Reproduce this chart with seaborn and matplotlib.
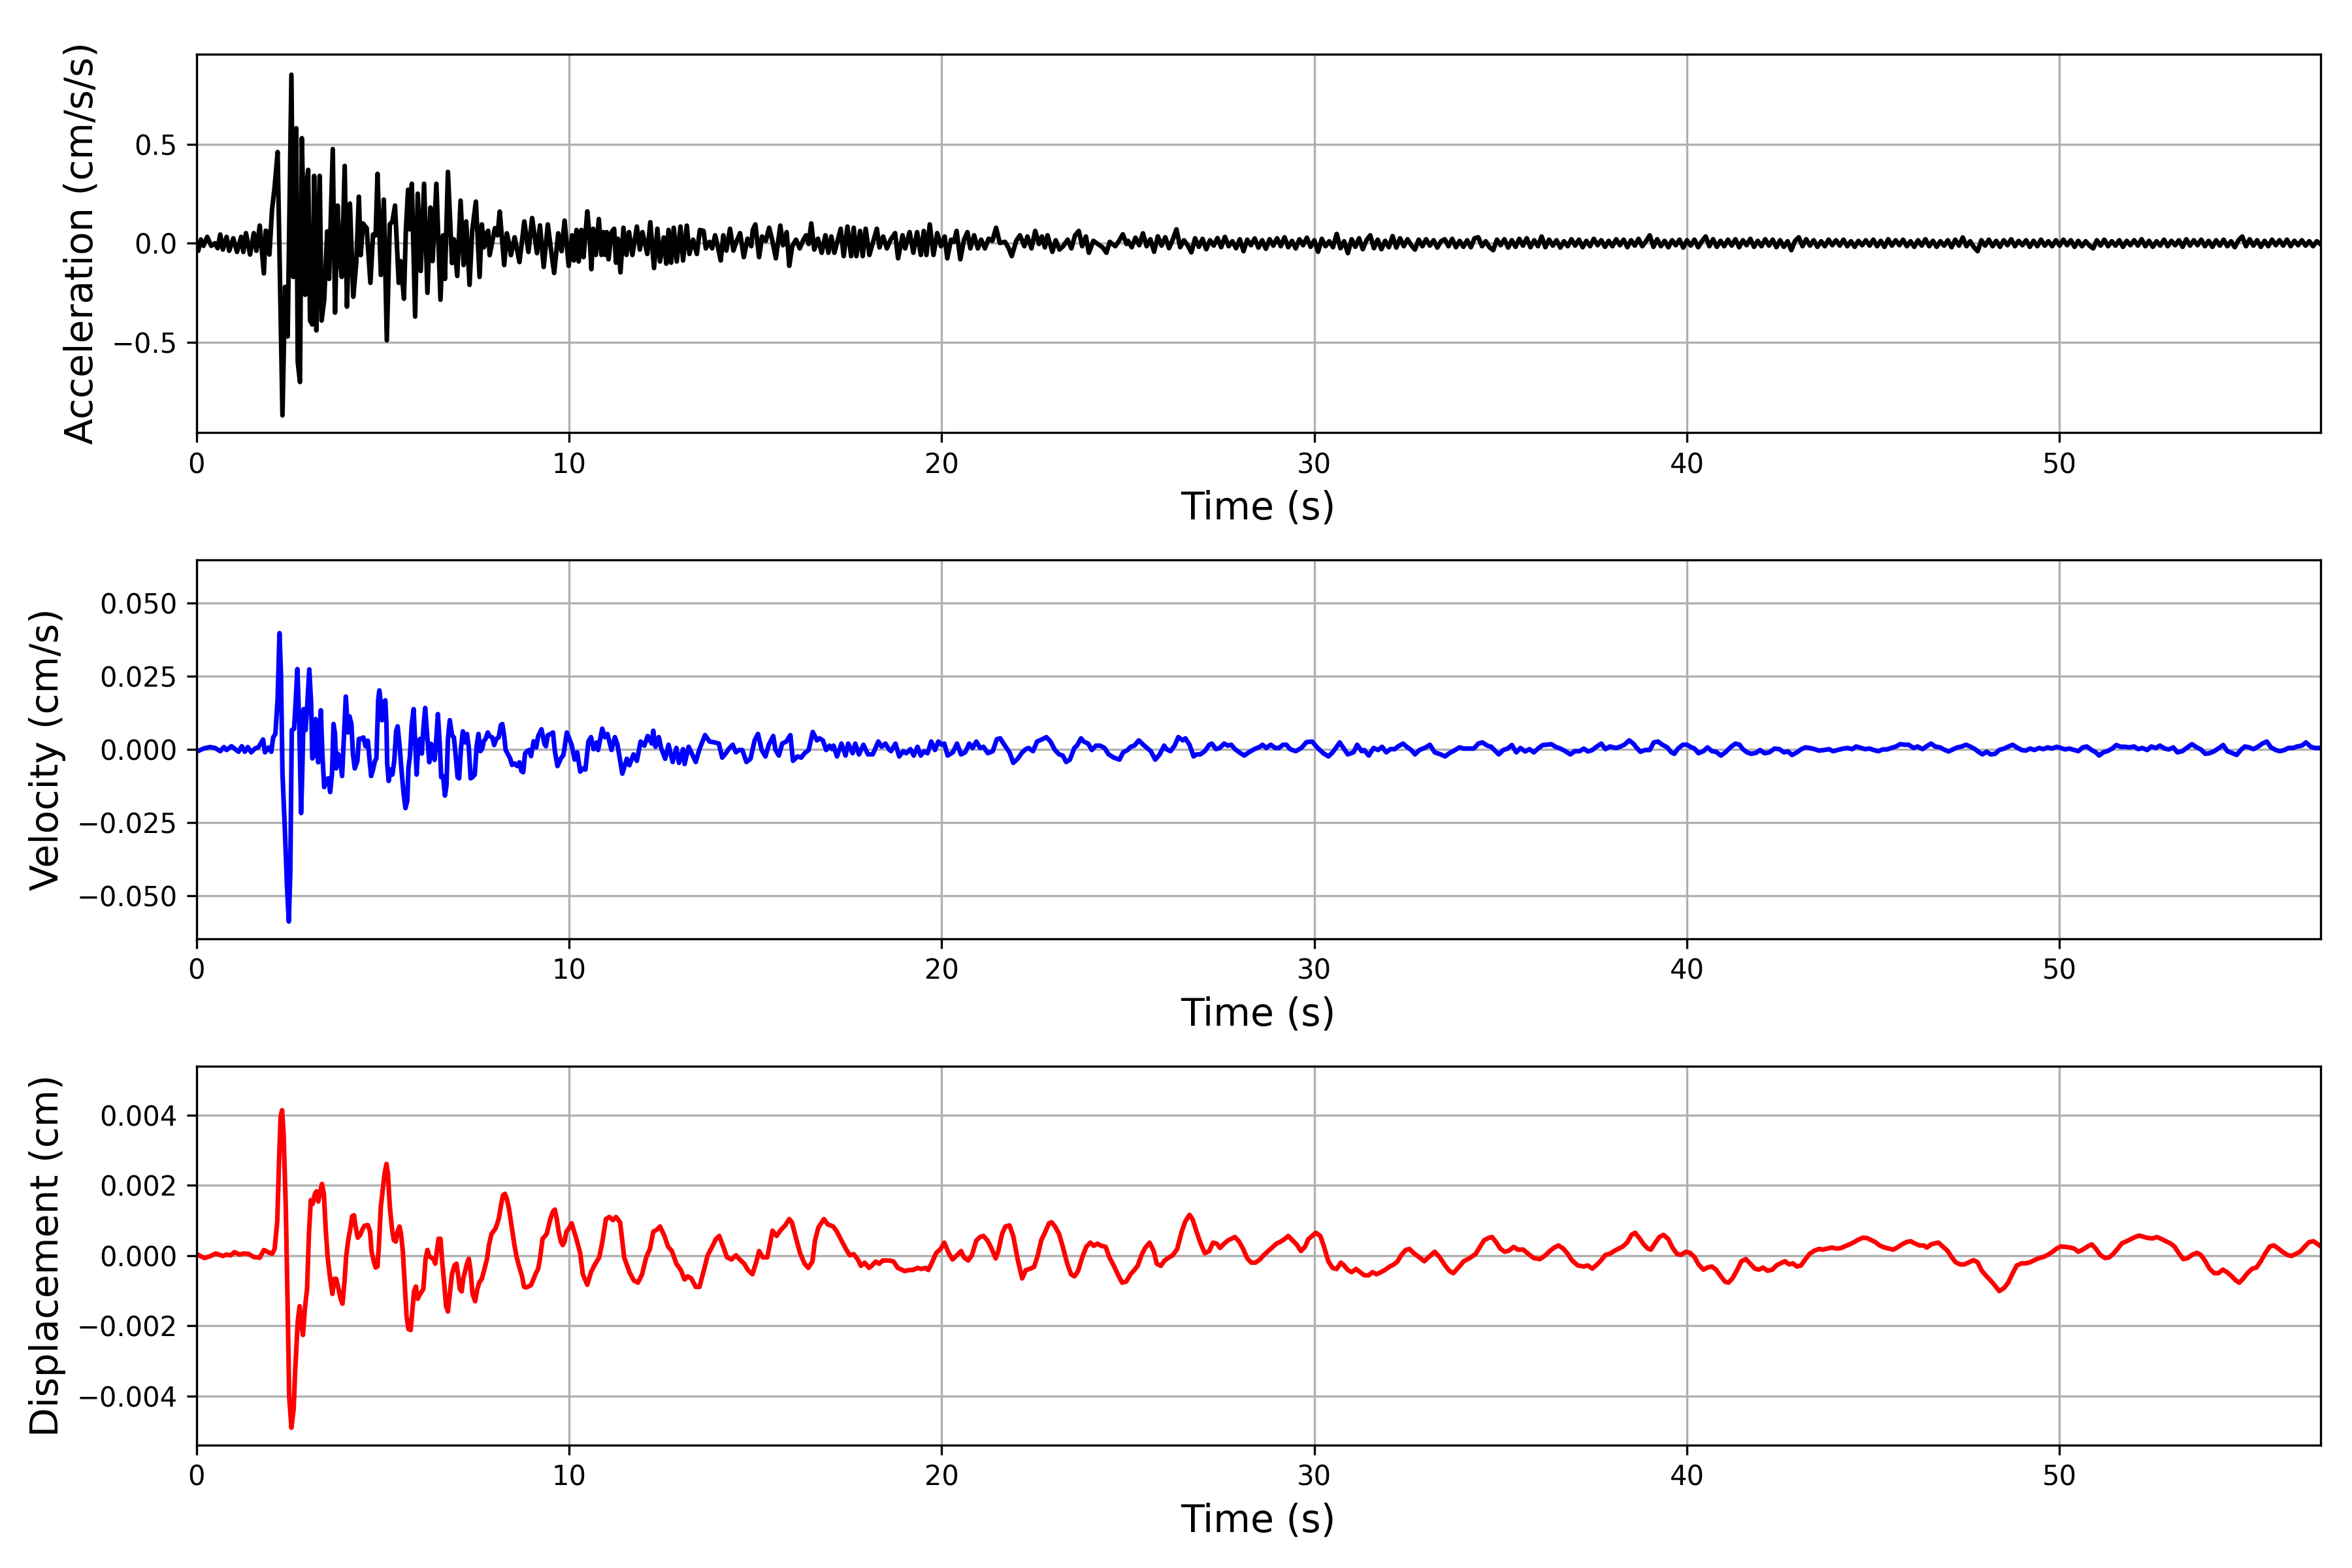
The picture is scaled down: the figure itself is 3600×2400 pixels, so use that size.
import numpy as np
import matplotlib
matplotlib.use("Agg")
import matplotlib.pyplot as plt
from matplotlib.ticker import MultipleLocator
import seaborn as sns

# ---- acceleration (cm/s/s) ----
acc_t_0_10 = [0.00, 0.05, 0.12, 0.19, 0.29, 0.40, 0.50, 0.57, 0.64, 0.71,
              0.81, 0.88, 0.99, 1.09, 1.20, 1.26, 1.33, 1.44, 1.54, 1.61,
              1.70, 1.81, 1.86, 1.92, 1.96, 2.03, 2.10, 2.18, 2.31, 2.38,
              2.45, 2.55, 2.60, 2.68, 2.72, 2.78, 2.83, 2.92, 2.95, 3.00,
              3.05, 3.11, 3.16, 3.22, 3.28, 3.31, 3.36, 3.43, 3.51, 3.56,
              3.66, 3.72, 3.79, 3.84, 3.90, 3.98, 4.04, 4.12, 4.21, 4.29,
              4.36, 4.41, 4.47, 4.57, 4.67, 4.74, 4.81, 4.86, 4.95, 5.03,
              5.11, 5.19, 5.26, 5.33, 5.43, 5.48, 5.57, 5.62, 5.68, 5.72,
              5.78, 5.87, 5.94, 6.02, 6.11, 6.20, 6.28, 6.34, 6.44, 6.55,
              6.62, 6.67, 6.75, 6.86, 6.91, 7.00, 7.09, 7.17, 7.24, 7.33,
              7.40, 7.50, 7.60, 7.66, 7.72, 7.78, 7.83, 7.87, 8.01, 8.08,
              8.14, 8.26, 8.33, 8.39, 8.44, 8.54, 8.67, 8.80, 8.91, 9.01,
              9.14, 9.22, 9.32, 9.43, 9.50, 9.60, 9.71, 9.80, 9.88, 9.99]
acc_0_10 = [0.0, -0.038, 0.019, -0.013, 0.032, -0.013, 0.0, -0.025, 0.044, -0.032,
            0.032, -0.038, 0.025, -0.044, 0.032, -0.044, 0.051, -0.057, 0.051, -0.038,
            0.089, -0.152, 0.063, 0.057, -0.057, 0.17, 0.285, 0.46, -0.868, -0.22,
            -0.47, 0.85, -0.17, 0.58, -0.60, -0.70, 0.53, -0.26, 0.29, 0.37,
            -0.39, -0.41, 0.34, -0.44, 0.165, 0.34, -0.39, -0.285, 0.06, -0.18,
            0.475, -0.35, 0.19, -0.05, -0.17, 0.39, -0.32, 0.20, -0.27, -0.10,
            0.235, -0.06, 0.10, 0.076, -0.20, 0.044, 0.04, 0.35, -0.16, 0.22,
            -0.49, 0.095, 0.11, 0.19, -0.20, -0.09, -0.28, 0.06, 0.27, 0.07,
            0.30, -0.37, 0.25, -0.14, 0.30, -0.25, 0.18, -0.09, 0.30, -0.285,
            0.04, -0.18, 0.36, -0.10, 0.02, -0.165, 0.215, -0.11, 0.11, -0.21,
            0.06, 0.21, -0.17, 0.095, -0.02, 0.05, 0.063, -0.06, 0.076, 0.04,
            0.16, -0.11, 0.05, 0.0, -0.06, 0.03, -0.095, 0.11, -0.044, 0.127,
            -0.05, 0.09, -0.12, 0.095, -0.01, -0.15, 0.05, -0.04, 0.114, -0.114]

acc_t_10_25 = [10.08, 10.13, 10.20, 10.26, 10.33, 10.39, 10.49, 10.55, 10.60, 10.65,
               10.72, 10.80, 10.87, 10.92, 10.97, 11.01, 11.06, 11.14, 11.21, 11.26,
               11.31, 11.38, 11.46, 11.54, 11.61, 11.70, 11.82, 11.90, 11.97, 12.10,
               12.18, 12.28, 12.37, 12.44, 12.54, 12.61, 12.67, 12.74, 12.81, 12.89,
               12.99, 13.06, 13.16, 13.23, 13.33, 13.43, 13.51, 13.61, 13.67, 13.77,
               13.84, 13.92, 13.99, 14.07, 14.14, 14.22, 14.32, 14.41, 14.49, 14.59,
               14.69, 14.79, 14.89, 14.93, 15.00, 15.10, 15.18, 15.28, 15.37, 15.45,
               15.55, 15.67, 15.74, 15.84, 15.91, 15.99, 16.09, 16.19, 16.29, 16.36,
               16.43, 16.50, 16.58, 16.68, 16.78, 16.88, 16.96, 17.04, 17.12, 17.19,
               17.29, 17.37, 17.47, 17.57, 17.64, 17.71, 17.81, 17.88, 17.96, 18.06,
               18.16, 18.26, 18.33, 18.43, 18.53, 18.63, 18.75, 18.83, 18.95, 19.02,
               19.14, 19.24, 19.34, 19.44, 19.52, 19.59, 19.68, 19.78, 19.88, 19.98,
               20.08, 20.15, 20.25, 20.33, 20.40, 20.50, 20.60, 20.69, 20.77, 20.87,
               20.97, 21.06, 21.16, 21.26, 21.36, 21.46, 21.56, 21.70, 21.80, 21.88,
               22.00, 22.10, 22.22, 22.30, 22.41, 22.51, 22.61, 22.69, 22.77, 22.84,
               22.97, 23.06, 23.16, 23.26, 23.38, 23.48, 23.58, 23.68, 23.77, 23.87,
               23.95, 24.07, 24.19, 24.32, 24.42, 24.51, 24.66, 24.76, 24.86, 24.96]
acc_10_25 = [0.040, -0.087, 0.067, -0.092, 0.067, -0.070, 0.161, 0.040, -0.131, 0.073,
             -0.059, 0.122, -0.059, 0.056, -0.059, 0.056, -0.081, 0.056, 0.073, -0.098,
             0.023, -0.147, 0.078, -0.059, 0.056, -0.059, 0.084, -0.032, 0.056, -0.054,
             0.106, -0.125, 0.073, -0.092, 0.029, -0.103, 0.067, -0.098, 0.078, -0.092,
             0.084, -0.087, 0.089, -0.054, 0.018, -0.054, 0.067, 0.062, -0.026, 0.007,
             -0.026, 0.040, -0.015, -0.087, 0.040, -0.037, 0.073, -0.037, 0.007, 0.051,
             -0.070, 0.023, -0.015, 0.067, 0.095, -0.070, 0.034, 0.012, 0.078, 0.018,
             -0.076, 0.089, -0.010, 0.056, -0.114, -0.015, 0.018, -0.026, 0.018, 0.040,
             -0.004, 0.100, -0.032, 0.023, -0.048, 0.040, -0.048, 0.034, -0.048, 0.001,
             0.073, -0.065, 0.084, -0.065, 0.078, -0.065, 0.062, -0.065, 0.073, -0.059,
             0.007, 0.073, -0.021, 0.034, -0.026, 0.018, 0.051, -0.076, 0.040, -0.026,
             0.056, -0.048, 0.056, -0.059, 0.062, -0.059, 0.095, -0.059, 0.051, -0.015,
             0.034, -0.076, 0.018, 0.007, 0.062, -0.081, 0.018, 0.056, -0.026, 0.040,
             -0.026, 0.018, -0.026, 0.023, 0.012, 0.078, 0.001, 0.007, -0.026, -0.065,
             0.012, 0.040, -0.015, 0.034, -0.026, 0.062, -0.004, 0.034, -0.021, 0.040,
             -0.043, 0.015, -0.032, -0.015, 0.018, -0.026, 0.040, 0.062, -0.015, 0.034,
             -0.048, 0.012, -0.004, -0.021, -0.048, 0.007, -0.015, 0.012, 0.045, -0.004]

# 25.0 s to 57.0 s, one value every 0.1 s
acc_25_57 = [0.012, -0.02, 0.028, -0.01, 0.05, -0.015, 0.02, -0.043, 0.035, -0.012,
             0.03, -0.025, 0.018, 0.07, -0.02, 0.015, -0.01, -0.046, 0.025, -0.018,
             0.022, -0.03, 0.015, -0.012, 0.026, -0.02, 0.032, -0.015, 0.01, -0.025,
             0.02, -0.04, 0.018, -0.01, 0.024, -0.022, 0.015, -0.028, 0.02, -0.012,
             0.025, -0.015, 0.03, -0.02, 0.012, -0.026, 0.02, -0.01, 0.028, -0.018,
             0.015, -0.043, 0.022, -0.015, 0.01, -0.02, 0.047, -0.025, 0.01, -0.05,
             0.02, -0.018, 0.025, -0.03, 0.015, 0.04, -0.025, 0.018, -0.03, 0.012,
             -0.02, 0.036, -0.022, 0.025, -0.015, 0.02, -0.01, -0.032, 0.018, -0.015,
             0.02, -0.012, 0.015, -0.022, 0.01, 0.02, -0.015, 0.022, -0.02, 0.012,
             -0.018, 0.015, -0.02, 0.025, 0.03, -0.015, 0.01, -0.02, -0.035, 0.018,
             -0.01, 0.02, -0.022, 0.015, -0.018, 0.022, -0.012, 0.025, -0.02, 0.015,
             -0.015, 0.034, -0.02, 0.018, -0.012, 0.015, -0.022, 0.01, -0.015, 0.02,
             -0.012, 0.018, -0.02, 0.012, -0.015, 0.022, -0.01, 0.015, -0.018, 0.012,
             -0.015, 0.02, -0.01, 0.018, -0.02, 0.015, -0.012, 0.022, -0.015, 0.01,
             0.04, -0.018, 0.02, -0.015, 0.012, -0.02, 0.015, -0.01, 0.018, -0.022,
             0.015, -0.012, 0.018, -0.02, 0.01, 0.034, -0.015, 0.02, -0.018, 0.012,
             -0.015, 0.018, -0.012, 0.02, -0.02, 0.015, -0.01, 0.022, -0.018, 0.012,
             -0.015, 0.02, -0.012, 0.018, -0.02, 0.015, -0.018, 0.01, -0.035, 0.012,
             0.03, -0.015, 0.02, -0.012, 0.015, -0.018, 0.01, -0.015, 0.018, -0.01,
             0.015, -0.012, 0.018, -0.015, 0.01, -0.018, 0.012, -0.01, 0.015, -0.012,
             0.018, -0.015, 0.012, -0.018, 0.02, -0.012, 0.015, -0.01, 0.018, -0.015,
             0.01, -0.018, 0.015, -0.012, 0.02, -0.015, 0.012, -0.018, 0.01, -0.012,
             0.015, -0.02, 0.018, -0.012, 0.029, -0.015, 0.01, -0.02, -0.04, 0.015,
             -0.012, 0.018, -0.015, 0.012, -0.018, 0.015, -0.01, 0.02, -0.015, 0.012,
             -0.01, 0.015, -0.018, 0.012, -0.015, 0.018, -0.012, 0.01, -0.015, 0.015,
             -0.012, 0.018, -0.01, 0.015, -0.018, 0.012, -0.015, 0.01, -0.012, -0.026,
             0.015, -0.012, 0.018, -0.015, 0.01, -0.012, 0.015, -0.018, 0.012, -0.01,
             0.015, -0.012, 0.02, -0.015, 0.012, -0.018, 0.01, -0.012, 0.018, -0.015,
             0.012, -0.01, 0.015, -0.018, 0.02, -0.012, 0.015, -0.01, 0.018, -0.015,
             0.012, -0.018, 0.015, -0.012, 0.018, -0.015, 0.01, -0.02, 0.015, 0.034,
             -0.015, 0.02, -0.012, 0.015, -0.018, 0.012, -0.015, 0.018, -0.01, 0.015,
             -0.012, 0.018, -0.015, 0.012, -0.01, 0.015, -0.012, 0.01, -0.015, 0.01,
             -0.005]
acc_t_25_57 = np.round(25.0 + 0.1 * np.arange(len(acc_25_57)), 1)

# ---- velocity (cm/s) ----
vel_t_0_10 = [0.00, 0.19, 0.36, 0.50, 0.64, 0.74, 0.81, 0.94, 1.02, 1.13,
              1.22, 1.30, 1.38, 1.47, 1.58, 1.66, 1.72, 1.79, 1.84, 1.94,
              2.01, 2.06, 2.12, 2.18, 2.23, 2.27, 2.31, 2.38, 2.43, 2.48,
              2.52, 2.56, 2.62, 2.65, 2.71, 2.76, 2.81, 2.84, 2.88, 2.93,
              2.97, 3.03, 3.08, 3.11, 3.15, 3.20, 3.23, 3.27, 3.34, 3.38,
              3.43, 3.49, 3.54, 3.59, 3.64, 3.68, 3.72, 3.75, 3.79, 3.85,
              3.91, 3.96, 4.01, 4.07, 4.11, 4.16, 4.20, 4.25, 4.32, 4.36,
              4.41, 4.48, 4.54, 4.60, 4.65, 4.69, 4.74, 4.79, 4.83, 4.88,
              4.91, 4.95, 4.98, 5.02, 5.07, 5.10, 5.12, 5.16, 5.21, 5.26,
              5.31, 5.36, 5.40, 5.46, 5.50, 5.56, 5.61, 5.66, 5.69, 5.73,
              5.78, 5.83, 5.87, 5.91, 5.96, 6.00, 6.05, 6.09, 6.14, 6.18,
              6.25, 6.30, 6.34, 6.39, 6.43, 6.48, 6.53, 6.57, 6.62, 6.67,
              6.71, 6.75, 6.80, 6.86, 6.91, 6.96, 7.01, 7.05, 7.10, 7.15,
              7.21, 7.26, 7.31, 7.36, 7.41, 7.47, 7.52, 7.57, 7.62, 7.67,
              7.71, 7.76, 7.82, 7.87, 7.94, 7.99, 8.05, 8.11, 8.17, 8.21,
              8.26, 8.30, 8.37, 8.42, 8.47, 8.54, 8.61, 8.67, 8.72, 8.77,
              8.82, 8.87, 8.93, 8.98, 9.05, 9.12, 9.17, 9.26, 9.34, 9.38,
              9.43, 9.49, 9.57, 9.62, 9.69, 9.78, 9.85, 9.94]
vel_0_10 = [-0.0008, 0.0003, 0.0008, 0.0005, -0.0006, 0.0008, -0.0002, 0.0011, 0.0003, -0.0008,
            0.0011, -0.0008, 0.0008, -0.0010, 0.0004, 0.0007, 0.0019, 0.0034, -0.0010, 0.0007,
            -0.0008, 0.0041, 0.0053, 0.0172, 0.0398, 0.0257, -0.0082, -0.0294, -0.0464, -0.0589,
            -0.0421, 0.0066, 0.0070, 0.0130, 0.0275, 0.0087, -0.0218, -0.0082, 0.0138, 0.0066,
            0.0142, 0.0274, 0.0155, -0.0031, -0.0023, 0.0104, 0.0053, -0.0044, 0.0134, -0.0014,
            -0.0129, -0.0103, -0.0099, -0.0146, -0.0082, 0.0087, 0.0053, -0.0065, -0.0014, -0.0027,
            -0.0091, 0.0045, 0.0181, 0.0058, 0.0113, 0.0087, -0.0014, -0.0065, -0.0040, 0.0036,
            0.0036, 0.0041, 0.0011, 0.0030, -0.0040, -0.0091, -0.0069, -0.0040, -0.0031, 0.0172,
            0.0202, 0.0155, 0.0100, 0.0159, 0.0168, 0.0087, -0.0048, -0.0108, -0.0069, -0.0086,
            -0.0040, 0.0062, 0.0079, 0.0003, -0.0065, -0.0150, -0.0201, -0.0175, -0.0065, -0.0023,
            0.0087, 0.0138, 0.0028, -0.0086, 0.0028, 0.0036, -0.0014, 0.0070, 0.0142, 0.0070,
            -0.0044, 0.0019, 0.0011, -0.0036, 0.0019, 0.0121, 0.0019, -0.0095, -0.0091, -0.0158,
            -0.0125, 0.0036, 0.0100, 0.0049, 0.0041, -0.0023, -0.0095, -0.0099, 0.0003, 0.0062,
            0.0024, 0.0053, 0.0007, -0.0099, -0.0095, -0.0086, 0.0011, 0.0053, -0.0006, 0.0003,
            0.0028, 0.0036, 0.0058, 0.0045, 0.0041, 0.0015, 0.0036, 0.0041, 0.0083, 0.0087,
            0.0045, -0.0002, -0.0019, -0.0031, -0.0053, -0.0048, -0.0057, -0.0044, -0.0074, -0.0078,
            -0.0014, -0.0006, -0.0002, -0.0023, 0.0028, 0.0007, 0.0045, 0.0069, 0.0019, 0.0011,
            0.0049, 0.0052, 0.0058, -0.0006, -0.0057, -0.0031, -0.0019, 0.0058]

vel_t_10_33 = [10.07, 10.15, 10.22, 10.30, 10.37, 10.44, 10.52, 10.59, 10.66, 10.74,
               10.78, 10.89, 10.96, 11.03, 11.14, 11.23, 11.30, 11.43, 11.55, 11.62,
               11.73, 11.82, 11.92, 12.02, 12.11, 12.22, 12.26, 12.32, 12.41, 12.47,
               12.58, 12.67, 12.78, 12.88, 12.95, 13.06, 13.10, 13.21, 13.29, 13.40,
               13.50, 13.65, 13.77, 13.91, 14.02, 14.11, 14.21, 14.28, 14.39, 14.48,
               14.56, 14.65, 14.76, 14.87, 14.98, 15.07, 15.17, 15.27, 15.36, 15.48,
               15.54, 15.63, 15.72, 15.83, 15.94, 16.01, 16.13, 16.23, 16.32, 16.43,
               16.54, 16.65, 16.72, 16.81, 16.90, 16.99, 17.06, 17.10, 17.19, 17.31,
               17.42, 17.49, 17.61, 17.68, 17.78, 17.90, 18.02, 18.15, 18.30, 18.39,
               18.49, 18.58, 18.64, 18.76, 18.86, 18.97, 19.05, 19.16, 19.25, 19.35,
               19.44, 19.53, 19.62, 19.72, 19.82, 19.91, 20.00, 20.07, 20.16, 20.30,
               20.41, 20.52, 20.63, 20.74, 20.83, 20.93, 21.03, 21.12, 21.24, 21.37,
               21.48, 21.57, 21.68, 21.82, 21.92, 22.04, 22.16, 22.26, 22.33, 22.45,
               22.56, 22.70, 22.81, 22.92, 23.04, 23.15, 23.25, 23.34, 23.44, 23.56,
               23.63, 23.74, 23.81, 23.93, 24.03, 24.14, 24.25, 24.37, 24.48, 24.62,
               24.77, 24.87, 24.99, 25.07, 25.17, 25.29, 25.41, 25.51, 25.61, 25.73,
               25.85, 25.97, 26.03, 26.14, 26.25, 26.35, 26.47, 26.54, 26.65, 26.76,
               26.84, 26.94, 27.06, 27.18, 27.25, 27.36, 27.46, 27.58, 27.68, 27.77,
               27.87, 28.02, 28.12, 28.24, 28.39, 28.54, 28.61, 28.71, 28.83, 28.95,
               29.05, 29.16, 29.25, 29.35, 29.50, 29.65, 29.79, 29.94, 30.09, 30.24,
               30.38, 30.49, 30.60, 30.68, 30.78, 30.90, 31.05, 31.15, 31.27, 31.34,
               31.46, 31.59, 31.71, 31.82, 31.93, 32.04, 32.16, 32.23, 32.38, 32.48,
               32.60, 32.70, 32.82]
vel_10_33 = [0.0016, -0.0035, -0.0010, -0.0076, -0.0065, -0.0069, 0.0027, 0.0042, 0.0001, 0.0024,
             -0.0002, 0.0071, 0.0042, 0.0053, -0.0002, 0.0042, 0.0016, -0.0083, -0.0032, -0.0054,
             -0.0017, -0.0039, 0.0027, 0.0013, 0.0046, 0.0020, 0.0064, 0.0009, 0.0042, 0.0005,
             -0.0032, 0.0016, -0.0043, 0.0005, -0.0046, 0.0001, -0.0050, 0.0009, -0.0013, -0.0043,
             0.0001, 0.0049, 0.0027, 0.0024, 0.0020, -0.0028, -0.0013, 0.0001, 0.0016, -0.0010,
             -0.0002, -0.0002, -0.0043, -0.0032, 0.0031, 0.0053, -0.0002, -0.0024, 0.0016, 0.0046,
             -0.0002, -0.0021, 0.0020, 0.0027, 0.0049, -0.0039, -0.0024, -0.0028, -0.0013, -0.0002,
             0.0060, 0.0031, 0.0038, 0.0031, -0.0002, 0.0013, 0.0001, 0.0013, -0.0024, 0.0020,
             -0.0021, 0.0020, -0.0013, 0.0020, -0.0017, 0.0016, -0.0017, -0.0017, 0.0027, 0.0009,
             0.0020, 0.0001, -0.0006, 0.0020, -0.0024, -0.0006, -0.0013, 0.0001, -0.0021, 0.0009,
             -0.0021, -0.0006, -0.0013, 0.0027, -0.0002, 0.0027, 0.0016, 0.0020, -0.0021, -0.0010,
             0.0020, -0.0017, -0.0010, 0.0020, 0.0005, 0.0027, 0.0005, 0.0009, -0.0013, -0.0006,
             0.0035, 0.0038, 0.0016, -0.0010, -0.0046, -0.0032, -0.0010, 0.0001, 0.0005, -0.0006,
             0.0027, 0.0035, 0.0042, 0.0027, -0.0002, -0.0017, -0.0021, -0.0043, -0.0035, 0.0005,
             0.0013, 0.0038, 0.0027, 0.0020, -0.0002, 0.0013, 0.0013, 0.0005, -0.0017, -0.0028,
             -0.0035, -0.0010, -0.0002, 0.0009, 0.0013, 0.0031, 0.0016, 0.0005, -0.0006, -0.0035,
             -0.0017, 0.0013, 0.0001, -0.0006, 0.0013, 0.0042, 0.0031, 0.0038, 0.0016, -0.0024,
             -0.0017, -0.0017, -0.0006, 0.0016, 0.0020, 0.0001, 0.0005, 0.0020, 0.0013, 0.0016,
             0.0001, -0.0013, -0.0021, -0.0010, 0.0001, 0.0009, 0.0016, 0.0005, 0.0016, 0.0005,
             0.0005, 0.0016, 0.0016, 0.0001, -0.0006, 0.0005, 0.0025, 0.0027, 0.0005, -0.0013,
             -0.0024, -0.0010, 0.0009, 0.0024, 0.0005, -0.0017, -0.0010, 0.0016, -0.0006, -0.0002,
             -0.0021, 0.0005, -0.0002, 0.0009, -0.0010, 0.0001, 0.0001, 0.0009, 0.0020, 0.0009,
             -0.0002, -0.0017, -0.0002]

vel_t_33_57 = [32.99, 33.10, 33.23, 33.39, 33.51, 33.62, 33.78, 33.89, 34.01, 34.17,
               34.28, 34.40, 34.51, 34.64, 34.75, 34.83, 34.95, 35.07, 35.19, 35.30,
               35.42, 35.53, 35.66, 35.77, 35.89, 36.02, 36.13, 36.24, 36.36, 36.47,
               36.60, 36.71, 36.87, 36.99, 37.12, 37.23, 37.34, 37.46, 37.57, 37.70,
               37.81, 37.93, 38.09, 38.20, 38.32, 38.45, 38.56, 38.64, 38.75, 38.87,
               39.00, 39.11, 39.22, 39.34, 39.47, 39.58, 39.66, 39.76, 39.89, 40.00,
               40.09, 40.20, 40.31, 40.44, 40.55, 40.67, 40.78, 40.91, 41.03, 41.18,
               41.30, 41.41, 41.50, 41.61, 41.72, 41.85, 41.96, 42.08, 42.21, 42.35,
               42.48, 42.60, 42.71, 42.82, 42.95, 43.07, 43.18, 43.29, 43.42, 43.54,
               43.68, 43.81, 43.92, 44.04, 44.20, 44.31, 44.43, 44.54, 44.67, 44.78,
               44.90, 45.01, 45.14, 45.25, 45.37, 45.48, 45.61, 45.72, 45.85, 45.95,
               46.08, 46.19, 46.32, 46.42, 46.55, 46.66, 46.79, 46.89, 47.02, 47.15,
               47.26, 47.37, 47.49, 47.60, 47.73, 47.84, 47.93, 48.04, 48.15, 48.27,
               48.38, 48.51, 48.63, 48.74, 48.85, 48.98, 49.09, 49.21, 49.32, 49.45,
               49.56, 49.68, 49.79, 49.92, 50.03, 50.15, 50.26, 50.39, 50.50, 50.62,
               50.73, 50.86, 50.97, 51.06, 51.17, 51.28, 51.41, 51.52, 51.64, 51.75,
               51.88, 52.00, 52.11, 52.22, 52.35, 52.46, 52.58, 52.69, 52.82, 52.93,
               53.05, 53.16, 53.29, 53.41, 53.55, 53.68, 53.79, 53.91, 54.02, 54.15,
               54.28, 54.39, 54.50, 54.62, 54.75, 54.86, 54.97, 55.09, 55.20, 55.33,
               55.44, 55.56, 55.67, 55.80, 55.91, 56.03, 56.14, 56.27, 56.37, 56.50,
               56.61, 56.74, 56.85, 56.97, 57.00]
vel_33_57 = [0.0007, 0.0016, -0.0010, -0.0017, -0.0024, -0.0013, -0.0002, 0.0007, 0.0003, 0.0003,
             0.0003, 0.0020, 0.0024, 0.0013, 0.0009, -0.0002, -0.0017, -0.0002, 0.0003, 0.0015,
             -0.0010, 0.0005, -0.0007, 0.0001, -0.0010, 0.0005, 0.0015, 0.0016, 0.0018, 0.0009,
             0.0003, -0.0004, -0.0017, -0.0006, -0.0006, 0.0003, -0.0007, -0.0002, 0.0009, 0.0020,
             0.0001, 0.0010, 0.0005, 0.0009, 0.0016, 0.0031, 0.0020, 0.0007, -0.0008, -0.0002,
             -0.0002, 0.0024, 0.0027, 0.0016, 0.0007, -0.0010, -0.0015, 0.0003, 0.0016, 0.0016,
             0.0009, 0.0003, -0.0013, -0.0006, 0.0007, -0.0006, -0.0008, -0.0021, -0.0010, 0.0009,
             0.0020, 0.0016, 0.0001, -0.0010, -0.0015, -0.0012, -0.0002, -0.0013, -0.0010, 0.0003,
             0.0001, -0.0010, -0.0007, -0.0019, -0.0010, 0.0001, 0.0007, 0.0005, 0.0001, -0.0004,
             -0.0002, 0.0001, -0.0006, -0.0002, 0.0003, 0.0005, 0.0001, 0.0010, 0.0005, 0.0001,
             0.0003, -0.0002, -0.0006, 0.0000, 0.0000, 0.0005, 0.0010, 0.0018, 0.0016, 0.0016,
             0.0005, 0.0010, 0.0001, 0.0010, 0.0020, 0.0010, 0.0007, 0.0000, -0.0007, 0.0001,
             0.0007, 0.0010, 0.0016, 0.0010, 0.0001, -0.0010, -0.0017, -0.0008, -0.0017, -0.0015,
             -0.0002, 0.0003, 0.0010, 0.0016, 0.0007, -0.0002, -0.0004, 0.0003, -0.0002, 0.0005,
             0.0001, 0.0007, 0.0003, 0.0009, 0.0005, 0.0000, 0.0003, -0.0002, -0.0006, 0.0007,
             0.0010, -0.0002, -0.0010, -0.0021, -0.0010, -0.0006, 0.0003, 0.0015, 0.0009, 0.0009,
             0.0007, 0.0010, 0.0001, 0.0005, -0.0002, 0.0010, 0.0005, 0.0013, 0.0003, 0.0000,
             0.0007, -0.0010, -0.0006, 0.0005, 0.0018, 0.0007, 0.0000, -0.0015, -0.0013, -0.0006,
             0.0005, 0.0015, -0.0006, -0.0012, -0.0019, -0.0002, 0.0010, 0.0007, 0.0001, 0.0010,
             0.0020, 0.0027, 0.0007, -0.0002, -0.0006, -0.0002, 0.0005, 0.0005, 0.0010, 0.0013,
             0.0024, 0.0009, 0.0005, 0.0005, 0.0005]

# ---- displacement (cm) ----
disp_t_0_10 = [0.00, 0.12, 0.22, 0.36, 0.52, 0.71, 0.81, 0.92, 1.02, 1.16,
               1.26, 1.40, 1.54, 1.70, 1.81, 1.92, 2.03, 2.10, 2.17, 2.22,
               2.26, 2.30, 2.34, 2.40, 2.45, 2.49, 2.55, 2.61, 2.65, 2.72,
               2.77, 2.81, 2.86, 2.91, 2.97, 3.02, 3.07, 3.12, 3.18, 3.22,
               3.27, 3.31, 3.37, 3.42, 3.47, 3.52, 3.59, 3.65, 3.70, 3.75,
               3.80, 3.87, 3.92, 3.97, 4.02, 4.08, 4.13, 4.18, 4.23, 4.27,
               4.33, 4.39, 4.45, 4.51, 4.60, 4.66, 4.70, 4.76, 4.81, 4.86,
               4.90, 4.95, 5.00, 5.05, 5.10, 5.14, 5.19, 5.25, 5.30, 5.35,
               5.40, 5.45, 5.49, 5.54, 5.59, 5.64, 5.69, 5.75, 5.80, 5.84,
               5.89, 5.94, 5.99, 6.05, 6.09, 6.15, 6.20, 6.25, 6.30, 6.36,
               6.41, 6.46, 6.50, 6.55, 6.59, 6.65, 6.70, 6.75, 6.80, 6.86,
               6.93, 6.98, 7.02, 7.07, 7.12, 7.16, 7.21, 7.26, 7.31, 7.36,
               7.41, 7.48, 7.54, 7.59, 7.66, 7.73, 7.80, 7.85, 7.92, 7.97,
               8.02, 8.07, 8.12, 8.18, 8.23, 8.28, 8.33, 8.39, 8.46, 8.53,
               8.59, 8.66, 8.74, 8.79, 8.84, 8.91, 8.98, 9.05, 9.12, 9.17,
               9.22, 9.29, 9.35, 9.40, 9.45, 9.50, 9.57, 9.62, 9.67, 9.72,
               9.78, 9.83, 9.88, 9.93, 9.97]
disp_0_10 = [0.00005, -0.00002, -0.00007, -0.00002, 0.00006, -0.00001, 0.00003, 0.00001, 0.0001, 0.00003,
             0.00006, 0.00005, -0.00004, -0.00006, 0.00016, 0.0001, 0.00005, 0.00019, 0.00098, 0.00275,
             0.00396, 0.00414, 0.00347, 0.00133, -0.00152, -0.00401, -0.0049, -0.00436, -0.0033, -0.00187,
             -0.00144, -0.00194, -0.00226, -0.00152, -0.00095, 0.00062, 0.00158, 0.00147, 0.00176, 0.00183,
             0.00154, 0.00176, 0.00204, 0.00176, 0.00076, -0.00002, -0.00066, -0.00109, -0.00066, -0.00066,
             -0.00088, -0.00123, -0.00137, -0.0008, -0.00002, 0.00048, 0.00076, 0.00112, 0.00115, 0.00083,
             0.00051, 0.00058, 0.00073, 0.00085, 0.00087, 0.00069, 0.00012, -0.00016, -0.00034, -0.00031,
             0.00033, 0.0014, 0.00186, 0.00233, 0.00261, 0.00233, 0.0014, 0.00076, 0.00044, 0.0004,
             0.00069, 0.00083, 0.00062, 0.00012, -0.0008, -0.00173, -0.00209, -0.00212, -0.00152, -0.00102,
             -0.00088, -0.00123, -0.00112, -0.00102, -0.00095, -0.00009, 0.00016, -0.00002, -0.00006, -0.00009,
             -0.00023, 0.00019, 0.00048, 0.00048, -0.00009, -0.0008, -0.00144, -0.00159, -0.00109, -0.00052,
             -0.00027, -0.00023, -0.00052, -0.00095, -0.00102, -0.00066, -0.00045, -0.00023, -0.00009, -0.00045,
             -0.00109, -0.0013, -0.00095, -0.00077, -0.00066, -0.00038, -0.00009, 0.0003, 0.00062, 0.00069,
             0.00076, 0.0009, 0.00108, 0.00147, 0.00172, 0.00176, 0.00162, 0.00133, 0.00083, 0.00033,
             -0.00002, -0.00031, -0.00059, -0.00088, -0.00091, -0.00088, -0.00084, -0.00066, -0.00048, -0.00038,
             -0.00009, 0.00048, 0.00055, 0.00062, 0.00083, 0.00105, 0.00126, 0.00131, 0.00105, 0.00069,
             0.0004, 0.0003, 0.0004, 0.00069, 0.00073]

disp_t_10_33 = [10.07, 10.19, 10.30, 10.37, 10.49, 10.59, 10.69, 10.81, 10.89, 10.99,
                11.08, 11.18, 11.26, 11.37, 11.48, 11.62, 11.74, 11.85, 11.96, 12.07,
                12.17, 12.26, 12.36, 12.44, 12.56, 12.66, 12.76, 12.88, 13.00, 13.10,
                13.18, 13.28, 13.40, 13.50, 13.62, 13.72, 13.84, 13.94, 14.03, 14.14,
                14.24, 14.36, 14.48, 14.58, 14.70, 14.80, 14.92, 15.02, 15.10, 15.20,
                15.32, 15.46, 15.57, 15.69, 15.80, 15.91, 15.98, 16.09, 16.20, 16.32,
                16.42, 16.53, 16.60, 16.69, 16.84, 16.94, 17.09, 17.19, 17.31, 17.43,
                17.53, 17.64, 17.75, 17.83, 17.93, 18.05, 18.12, 18.23, 18.32, 18.42,
                18.60, 18.71, 18.82, 19.01, 19.13, 19.23, 19.35, 19.45, 19.57, 19.64,
                19.75, 19.85, 19.97, 20.07, 20.19, 20.29, 20.41, 20.52, 20.60, 20.71,
                20.81, 20.93, 21.03, 21.12, 21.23, 21.33, 21.45, 21.52, 21.62, 21.71,
                21.82, 21.92, 22.04, 22.16, 22.26, 22.36, 22.48, 22.58, 22.67, 22.78,
                22.88, 22.95, 23.04, 23.15, 23.25, 23.37, 23.47, 23.56, 23.66, 23.77,
                23.88, 23.99, 24.08, 24.18, 24.28, 24.40, 24.50, 24.62, 24.74, 24.84,
                24.95, 25.07, 25.17, 25.26, 25.36, 25.46, 25.58, 25.69, 25.77, 25.88,
                25.98, 26.10, 26.20, 26.32, 26.44, 26.54, 26.65, 26.73, 26.84, 26.94,
                27.06, 27.18, 27.28, 27.38, 27.47, 27.58, 27.68, 27.87, 27.98, 28.09,
                28.20, 28.31, 28.42, 28.54, 28.64, 28.76, 28.86, 28.98, 29.10, 29.20,
                29.30, 29.42, 29.53, 29.64, 29.75, 29.84, 29.94, 30.04, 30.16, 30.26,
                30.38, 30.49, 30.60, 30.71, 30.78, 30.90, 31.00, 31.12, 31.23, 31.34,
                31.46, 31.56, 31.67, 31.79, 31.89, 32.01, 32.12, 32.23, 32.33, 32.45,
                32.55, 32.67, 32.82]
disp_10_33 = [0.00092, 0.00050, 0.00007, -0.00053, -0.00083, -0.00047, -0.00026, -0.00005, 0.00037, 0.00104,
              0.00110, 0.00101, 0.00110, 0.00095, -0.00005, -0.00047, -0.00071, -0.00077, -0.00053, -0.00005,
              0.00019, 0.00068, 0.00074, 0.00083, 0.00056, 0.00025, 0.00013, -0.00023, -0.00041, -0.00068,
              -0.00059, -0.00065, -0.00089, -0.00089, -0.00041, 0.00001, 0.00025, 0.00047, 0.00056, 0.00025,
              -0.00005, -0.00011, 0.00001, -0.00011, -0.00023, -0.00041, -0.00053, -0.00020, 0.00013, -0.00005,
              -0.00005, 0.00071, 0.00056, 0.00074, 0.00086, 0.00104, 0.00095, 0.00050, 0.00007, -0.00023,
              -0.00035, -0.00017, 0.00043, 0.00080, 0.00104, 0.00089, 0.00083, 0.00068, 0.00043, 0.00019,
              0.00001, 0.00004, -0.00011, -0.00029, -0.00020, -0.00035, -0.00029, -0.00017, -0.00023, -0.00014,
              -0.00014, -0.00017, -0.00035, -0.00044, -0.00041, -0.00041, -0.00035, -0.00038, -0.00035, -0.00041,
              -0.00017, 0.00007, 0.00019, 0.00037, 0.00007, -0.00011, 0.00001, 0.00013, -0.00005, -0.00014,
              0.00001, 0.00043, 0.00053, 0.00056, 0.00043, 0.00022, -0.00008, 0.00013, 0.00062, 0.00083,
              0.00086, 0.00056, -0.00011, -0.00065, -0.00041, -0.00038, -0.00032, 0.00001, 0.00043, 0.00068,
              0.00092, 0.00095, 0.00083, 0.00062, 0.00025, -0.00023, -0.00053, -0.00059, -0.00044, -0.00005,
              0.00025, 0.00037, 0.00028, 0.00034, 0.00028, 0.00025, -0.00005, -0.00029, -0.00056, -0.00077,
              -0.00074, -0.00053, -0.00041, -0.00029, 0.00001, 0.00022, 0.00037, 0.00013, -0.00023, -0.00029,
              -0.00014, -0.00005, 0.00001, 0.00019, 0.00068, 0.00098, 0.00116, 0.00104, 0.00068, 0.00037,
              0.00007, 0.00013, 0.00037, 0.00034, 0.00022, 0.00034, 0.00043, 0.00053, 0.00040, 0.00019,
              -0.00008, -0.00020, -0.00020, -0.00011, 0.00001, 0.00013, 0.00022, 0.00034, 0.00040, 0.00047,
              0.00056, 0.00043, 0.00031, 0.00013, 0.00025, 0.00047, 0.00056, 0.00065, 0.00056, 0.00025,
              -0.00017, -0.00035, -0.00038, -0.00020, -0.00026, -0.00041, -0.00047, -0.00038, -0.00047, -0.00056,
              -0.00056, -0.00047, -0.00053, -0.00047, -0.00041, -0.00032, -0.00026, -0.00017, 0.00001, 0.00016,
              0.00019, 0.00007, -0.00005]

disp_t_33_57 = [32.95, 33.07, 33.23, 33.36, 33.51, 33.62, 33.73, 33.89, 34.01, 34.17,
                34.33, 34.45, 34.56, 34.67, 34.77, 34.88, 34.99, 35.11, 35.22, 35.35,
                35.46, 35.61, 35.74, 35.89, 36.05, 36.18, 36.33, 36.44, 36.55, 36.68,
                36.80, 36.91, 37.07, 37.23, 37.34, 37.46, 37.59, 37.70, 37.81, 37.93,
                38.06, 38.17, 38.28, 38.40, 38.51, 38.61, 38.72, 38.84, 38.95, 39.03,
                39.14, 39.26, 39.37, 39.50, 39.61, 39.73, 39.84, 39.97, 40.08, 40.20,
                40.31, 40.44, 40.55, 40.67, 40.78, 40.91, 41.02, 41.11, 41.22, 41.35,
                41.46, 41.58, 41.69, 41.82, 41.93, 42.04, 42.16, 42.29, 42.40, 42.51,
                42.63, 42.74, 42.84, 42.95, 43.06, 43.18, 43.29, 43.42, 43.54, 43.65,
                43.76, 43.89, 44.01, 44.12, 44.23, 44.36, 44.48, 44.59, 44.72, 44.83,
                44.95, 45.06, 45.17, 45.30, 45.42, 45.53, 45.64, 45.77, 45.88, 46.00,
                46.11, 46.24, 46.35, 46.44, 46.55, 46.66, 46.75, 46.86, 46.99, 47.10,
                47.21, 47.33, 47.44, 47.57, 47.69, 47.80, 47.91, 48.04, 48.15, 48.27,
                48.38, 48.51, 48.62, 48.74, 48.85, 48.98, 49.09, 49.21, 49.32, 49.45,
                49.56, 49.68, 49.81, 49.92, 50.03, 50.15, 50.28, 50.39, 50.50, 50.62,
                50.75, 50.86, 50.97, 51.09, 51.22, 51.33, 51.44, 51.56, 51.67, 51.80,
                51.91, 52.03, 52.14, 52.27, 52.38, 52.50, 52.61, 52.74, 52.85, 52.97,
                53.08, 53.21, 53.32, 53.44, 53.55, 53.68, 53.79, 53.91, 54.02, 54.15,
                54.26, 54.38, 54.49, 54.62, 54.73, 54.82, 54.93, 55.04, 55.17, 55.28,
                55.40, 55.51, 55.64, 55.75, 55.87, 55.98, 56.11, 56.22, 56.34, 56.45,
                56.58, 56.69, 56.81, 56.97, 57.00]
disp_33_57 = [-0.00016, -0.00004, 0.00011, -0.00004, -0.00028, -0.00043, -0.00050, -0.00031, -0.00016, -0.00007,
              0.00005, 0.00026, 0.00044, 0.00050, 0.00053, 0.00038, 0.00020, 0.00011, 0.00014, 0.00025,
              0.00017, 0.00017, 0.00005, -0.00007, -0.00010, -0.00001, 0.00014, 0.00023, 0.00029, 0.00020,
              0.00005, -0.00013, -0.00028, -0.00031, -0.00028, -0.00037, -0.00025, -0.00013, 0.00002, 0.00005,
              0.00014, 0.00020, 0.00026, 0.00038, 0.00059, 0.00065, 0.00050, 0.00032, 0.00020, 0.00017,
              0.00035, 0.00053, 0.00059, 0.00047, 0.00023, 0.00005, 0.00002, 0.00011, 0.00008, -0.00004,
              -0.00025, -0.00040, -0.00034, -0.00031, -0.00040, -0.00059, -0.00074, -0.00077, -0.00065, -0.00040,
              -0.00016, -0.00010, -0.00022, -0.00037, -0.00040, -0.00034, -0.00043, -0.00040, -0.00028, -0.00022,
              -0.00016, -0.00025, -0.00022, -0.00031, -0.00028, -0.00010, 0.00005, 0.00014, 0.00019, 0.00017,
              0.00020, 0.00023, 0.00020, 0.00021, 0.00026, 0.00032, 0.00038, 0.00045, 0.00051, 0.00050,
              0.00044, 0.00038, 0.00029, 0.00023, 0.00020, 0.00017, 0.00023, 0.00032, 0.00038, 0.00041,
              0.00035, 0.00029, 0.00029, 0.00023, 0.00032, 0.00035, 0.00037, 0.00026, 0.00014, -0.00004,
              -0.00019, -0.00025, -0.00025, -0.00019, -0.00013, -0.00019, -0.00043, -0.00059, -0.00071, -0.00086,
              -0.00101, -0.00092, -0.00077, -0.00050, -0.00028, -0.00022, -0.00022, -0.00019, -0.00013, -0.00007,
              -0.00004, 0.00002, 0.00011, 0.00020, 0.00026, 0.00025, 0.00023, 0.00020, 0.00011, 0.00017,
              0.00026, 0.00032, 0.00020, 0.00002, -0.00007, -0.00005, 0.00005, 0.00020, 0.00035, 0.00041,
              0.00047, 0.00053, 0.00057, 0.00053, 0.00050, 0.00049, 0.00053, 0.00047, 0.00041, 0.00035,
              0.00026, 0.00005, -0.00010, -0.00007, 0.00002, 0.00008, 0.00002, -0.00016, -0.00037, -0.00050,
              -0.00050, -0.00040, -0.00047, -0.00059, -0.00071, -0.00077, -0.00065, -0.00050, -0.00037, -0.00034,
              -0.00016, 0.00005, 0.00026, 0.00029, 0.00020, 0.00011, 0.00002, -0.00001, 0.00005, 0.00011,
              0.00026, 0.00038, 0.00041, 0.00029, 0.00027]

acc_t = np.concatenate([acc_t_0_10, acc_t_10_25, acc_t_25_57])
acc = np.concatenate([acc_0_10, acc_10_25, acc_25_57])
vel_t = np.concatenate([vel_t_0_10, vel_t_10_33, vel_t_33_57])
vel = np.concatenate([vel_0_10, vel_10_33, vel_33_57])
disp_t = np.concatenate([disp_t_0_10, disp_t_10_33, disp_t_33_57])
disp = np.concatenate([disp_0_10, disp_10_33, disp_33_57])

panels = [
    (acc_t, acc, "black", "Acceleration (cm/s/s)", 0.5),
    (vel_t, vel, "blue", "Velocity (cm/s)", 0.025),
    (disp_t, disp, "red", "Displacement (cm)", 0.002),
]

fig, axes = plt.subplots(3, 1, figsize=(12, 8))
for ax, (t, y, color, label, step) in zip(axes, panels):
    sns.lineplot(x=t, y=y, ax=ax, color=color, linewidth=1.7,
                 estimator=None, sort=False)
    lim = 1.1 * np.abs(y).max()
    ax.set_ylim(-lim, lim)
    ax.set_xlim(0, t[-1])
    ax.yaxis.set_major_locator(MultipleLocator(step))
    ax.grid(True)
    ax.set_xlabel("Time (s)", fontsize=14)
    ax.set_ylabel(label, fontsize=14)

fig.subplots_adjust(left=0.0835, right=0.9866, top=0.9656, bottom=0.0785,
                    hspace=0.337)
plt.savefig("out.png", dpi=300)
plt.close("all")
